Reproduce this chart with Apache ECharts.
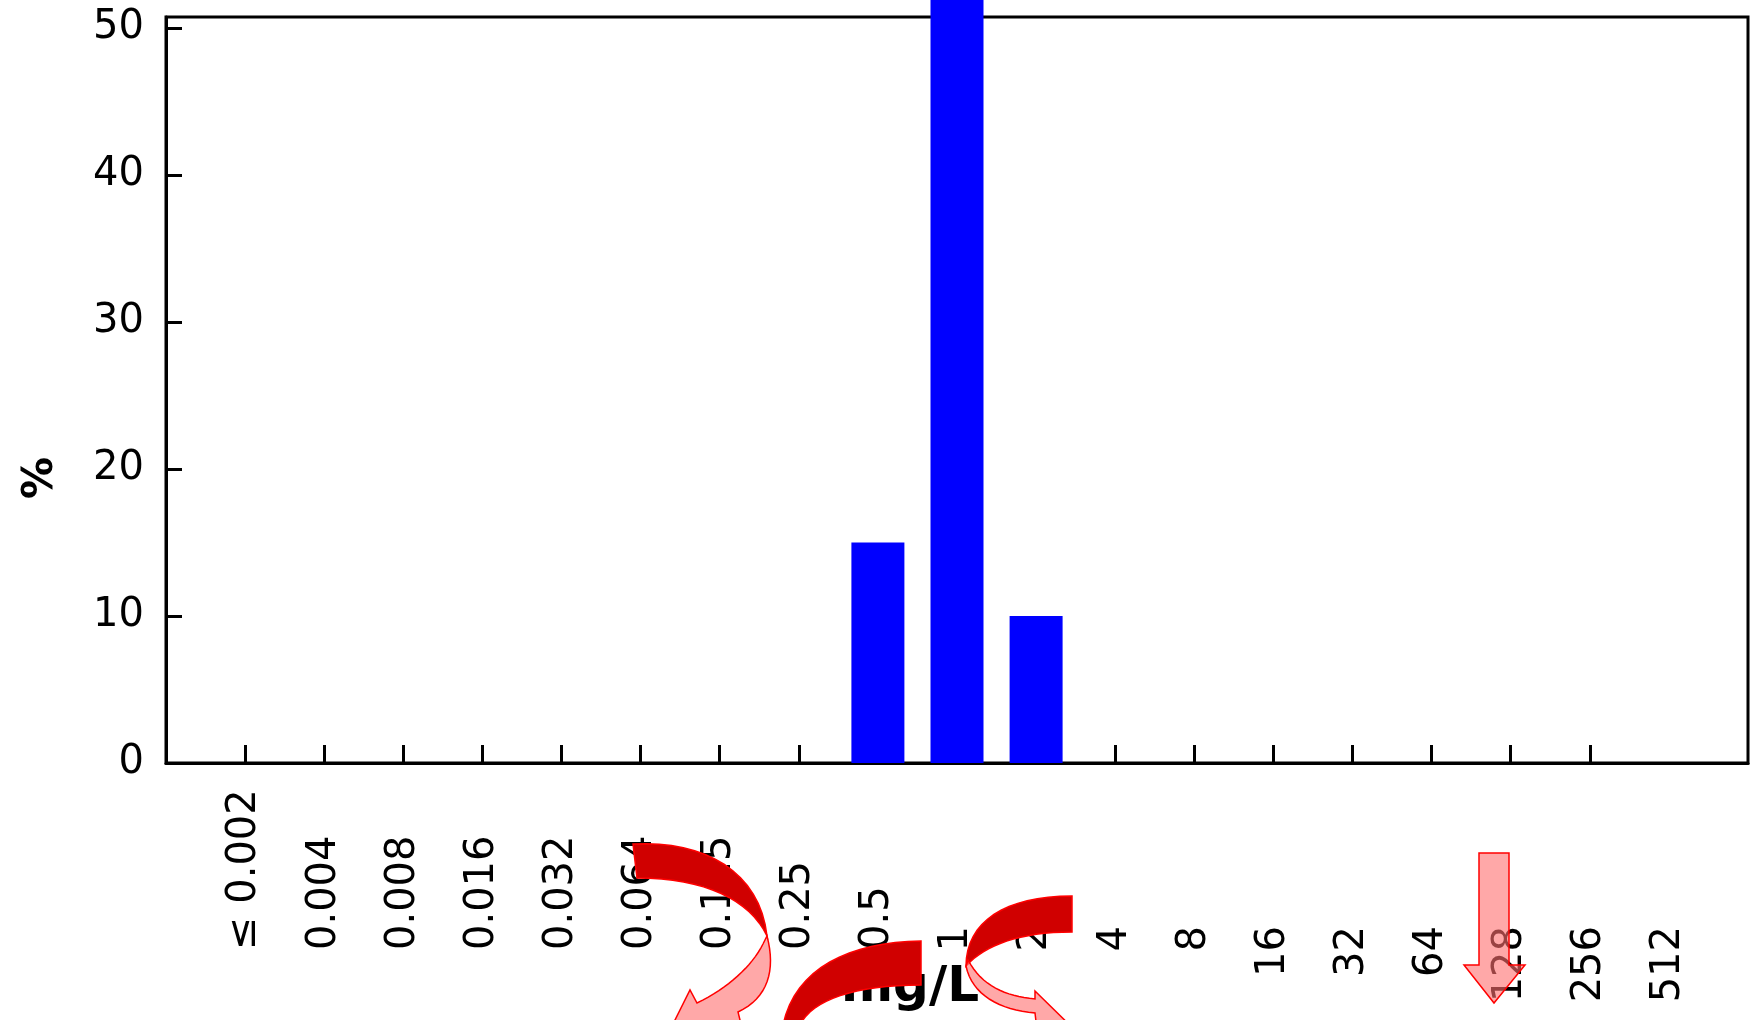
<!DOCTYPE html>
<html style="height: 100%">
<head>
<meta charset="utf-8">
</head>
<body style="height: 100%; margin: 0; background: #fff">
<div id="container" style="width: 1757px; height: 1020px"></div>
<script type="text/javascript" src="https://cdn.jsdelivr.net/npm/echarts@6/dist/echarts.min.js"></script>
<script type="text/javascript">
// MIC classes (mg/L) and share of isolates (%)
var categories = ['≤ 0.002', '0.004', '0.008', '0.016', '0.032', '0.064', '0.125', '0.25',
    '0.5', '1', '2', '4', '8', '16', '32', '64', '128', '256', '512'];
var percent = [0, 0, 0, 0, 0, 0, 0, 0, 15, 75, 10, 0, 0, 0, 0, 0, 0, 0, 0];
var yTicks = [0, 10, 20, 30, 40, 50];

var positions = categories.map(function (c, i) { return i + 1; });
var decimalPos = positions.filter(function (p) { return categories[p - 1].indexOf('.') >= 0; });
var integerPos = positions.filter(function (p) { return categories[p - 1].indexOf('.') < 0; });
var barData = percent.map(function (v, i) { return [i + 1, v]; });

var labelFont = { fontFamily: 'DejaVu Sans', fontSize: 40, color: '#000' };
function catLabel(v) { return categories[v - 1] || ''; }

// turn a small list of M/L/C commands into polygon points (for the arrow decorations)
function outline(cmds) {
    var pts = [], cur = null;
    cmds.forEach(function (c) {
        if (c[0] === 'M' || c[0] === 'L') {
            cur = [c[1], c[2]];
            pts.push(cur);
        } else if (c[0] === 'C') {
            var p0 = cur;
            for (var k = 1; k <= 16; k++) {
                var t = k / 16, u = 1 - t;
                pts.push([
                    u * u * u * p0[0] + 3 * u * u * t * c[1] + 3 * u * t * t * c[3] + t * t * t * c[5],
                    u * u * u * p0[1] + 3 * u * u * t * c[2] + 3 * u * t * t * c[4] + t * t * t * c[6]
                ]);
            }
            cur = [c[5], c[6]];
        }
    });
    return pts;
}

var dark = { fill: '#d00000', stroke: '#ff0000', lineWidth: 1.5 };
var pink = { fill: 'rgba(255,110,110,0.6)', stroke: '#ff0000', lineWidth: 1.5 };

var arrows = [
    [dark, [['M', 633, 844], ['C', 705, 840, 760, 872, 767, 936], ['C', 750, 900, 705, 878, 637, 878]]],
    [pink, [['M', 767, 936], ['C', 776, 970, 768, 998, 738, 1012], ['L', 742, 1028], ['L', 665, 1040], ['L', 690, 990], ['L', 697, 1003], ['C', 728, 988, 752, 966, 763, 944]]],
    [dark, [['M', 921, 941], ['C', 850, 942, 795, 968, 783, 1025], ['L', 800, 1025], ['C', 812, 1000, 855, 985, 921, 985]]],
    [dark, [['M', 1072, 896], ['C', 1005, 896, 966, 922, 966, 966], ['C', 985, 945, 1020, 932, 1072, 932]]],
    [pink, [['M', 966, 966], ['C', 972, 995, 1000, 1010, 1035, 1013], ['L', 1037, 1030], ['L', 1085, 1040], ['L', 1035, 991], ['L', 1035, 999], ['C', 1005, 996, 982, 986, 968, 960]]],
    [pink, [['M', 1479, 853], ['L', 1509, 853], ['L', 1509, 965], ['L', 1525, 965], ['L', 1494, 1003], ['L', 1464, 965], ['L', 1479, 965]]]
];

var dom = document.getElementById('container');
var myChart = echarts.init(dom);

var option = {
    backgroundColor: '#fff',
    animation: false,
    grid: {
        left: 166, right: 9, top: 17, bottom: 257,
        show: true, borderColor: '#000', borderWidth: 3,
        containLabel: false
    },
    xAxis: [
        {
            type: 'value', position: 'bottom',
            min: 0, max: categories.length + 1, interval: 1,
            name: 'mg/L', nameLocation: 'middle', nameGap: 200,
            nameTextStyle: { fontFamily: 'DejaVu Sans', fontSize: 50, fontWeight: 'bold', color: '#000', padding: [0, 94, 0, 0] },
            axisLine: { lineStyle: { color: '#000', width: 3 } },
            axisTick: { inside: true, length: 18, customValues: positions.slice(0, -1), lineStyle: { color: '#000', width: 3 } },
            axisLabel: Object.assign({ rotate: 90, align: 'left', margin: 187, customValues: decimalPos, formatter: catLabel }, labelFont),
            splitLine: { show: false }
        },
        {
            type: 'value', position: 'bottom', offset: 0,
            min: 0, max: categories.length + 1, interval: 1,
            axisLine: { show: false },
            axisTick: { show: false },
            axisLabel: Object.assign({ rotate: 90, align: 'right', margin: 163, customValues: integerPos, formatter: catLabel }, labelFont),
            splitLine: { show: false }
        }
    ],
    yAxis: {
        type: 'value', min: 0, max: 50.75, interval: 10,
        name: '%', nameLocation: 'middle', nameGap: 104,
        nameTextStyle: { fontFamily: 'DejaVu Sans', fontSize: 42, fontWeight: 'bold', color: '#000', padding: [0, 176, 0, 0] },
        axisLine: { show: true, lineStyle: { color: '#000', width: 3 } },
        axisTick: { show: true, inside: true, length: 16, customValues: yTicks, lineStyle: { color: '#000', width: 3 } },
        axisLabel: Object.assign({ margin: 22, customValues: yTicks }, labelFont),
        splitLine: { show: false }
    },
    series: [{
        type: 'bar',
        xAxisIndex: 0,
        data: barData,
        barWidth: 53,
        clip: false,
        itemStyle: { color: '#0000ff' }
    }],
    graphic: arrows.map(function (a) {
        return { type: 'polygon', z: 100, shape: { points: outline(a[1]) }, style: a[0] };
    })
};

myChart.setOption(option);
</script>
</body>
</html>
